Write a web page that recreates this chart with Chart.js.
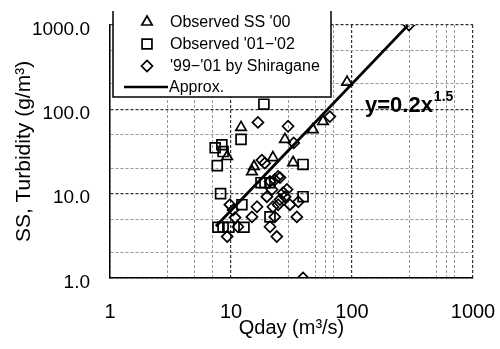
<!DOCTYPE html>
<html><head><meta charset="utf-8">
<script src="https://cdn.jsdelivr.net/npm/chart.js@4"></script>
<style>html,body{margin:0;padding:0;background:#fff}#wrap{width:500px;height:349px;position:relative}</style>
</head><body><div id="wrap"><canvas id="c" width="500" height="349"></canvas></div>
<script>
// ---- tick / grid values ----
const xTickValues = [1, 10, 100, 1000];
const xTickLabels = ['1', '10', '100', '1000'];
const yTickValues = [1, 10, 100, 1000];
const yTickLabels = ['1.0', '10.0', '100.0', '1000.0'];
const xGridMinor = [3, 5, 7, 30, 50, 60, 70, 300, 500, 600, 700];
const yGridMinor = [2, 5, 20, 50, 200, 500];

// ---- series names ----
const seriesNames = ["Observed SS '00", "Observed '01\u2212'02", "'99\u2212'01 by Shiragane", "Approx."];

// ---- Observed SS '00 (triangles) ----
const ssQ = [12.1, 9.3, 14.9, 15.5, 22.2, 27.9, 32.6, 47.5, 57.6, 91];
const ssC = [61, 27.6, 18.3, 21, 26.8, 44, 23.4, 57.5, 72, 210];

// ---- Observed '01-'02 (squares) ----
const obQ = [18.7, 12.1, 7.4, 8.4, 8.6, 7.7, 8.2, 12.3, 7.8, 8.6, 9.6, 12.8, 17.7, 19.1, 21, 39.4, 39.4, 21];
const obC = [115, 44, 35, 38, 31.6, 21.5, 10, 7.4, 4.0, 4.0, 4.0, 4.0, 13.5, 13.5, 13.5, 22.2, 9.2, 5.3];

// ---- '99-'01 by Shiragane (diamonds) ----
const shQ = [296, 65.6, 29.6, 16.7, 33, 18, 19, 25.4, 21.8, 19.8, 16.4, 14.9, 10.4, 9.8, 10.8, 11.4, 9.3,
             21, 23.9, 23, 22.2, 25.4, 28, 30.7, 35, 36, 27, 29, 24.5, 21, 24.5, 23, 39.4];
const shC = [1000, 82, 63, 70, 40, 25, 23, 15.5, 11.2, 9.2, 7.0, 5.3, 6.4, 7.4, 5.2, 4.05, 3.1,
             4.05, 3.1, 5.3, 7.0, 8.5, 9.2, 7.4, 5.3, 8.0, 10.3, 11.2, 7.4, 14, 16, 14.6, 1.0];

// ---- Approximation line endpoints ----
const apQ = [7.5, 290];
const apC = [4.1, 990];

// ---- equation label anchor ----
const eqText = 'y=0.2x';
const eqExp = '1.5';
const eqAt = [128, 92];

const toPts = (xs, ys) => xs.map((x, i) => ({x: x, y: ys[i]}));
const FONT = "'Liberation Sans', Arial, sans-serif";

const legendPlugin = {
  id: 'customLegend',
  afterDraw(chart) {
    const ctx = chart.ctx;
    const xs = chart.scales.x, ys = chart.scales.y;
    // equation
    ctx.save();
    ctx.fillStyle = '#000';
    ctx.font = 'bold 22px ' + FONT;
    ctx.textBaseline = 'alphabetic';
    const ex = xs.getPixelForValue(eqAt[0]), ey = ys.getPixelForValue(eqAt[1]);
    ctx.fillText(eqText, ex, ey);
    const w = ctx.measureText(eqText).width;
    ctx.font = 'bold 14px ' + FONT;
    ctx.fillText(eqExp, ex + w + 1, ey - 11);
    ctx.restore();

    // legend box
    ctx.save();
    const L = 113, R = 331, T = 0, B = 97;
    ctx.fillStyle = '#fff';
    ctx.fillRect(L, T, R - L, B - T);
    ctx.strokeStyle = '#000';
    ctx.lineWidth = 1.5;
    ctx.beginPath();
    ctx.moveTo(L, 11); ctx.lineTo(L, B); ctx.lineTo(R, B); ctx.lineTo(R, 11);
    ctx.stroke();
    const rows = [22, 44, 66, 87];
    const ds = chart.data.datasets;
    for (let i = 0; i < 3; i++) {
      const d = ds[i];
      ctx.fillStyle = 'rgba(0,0,0,0)';
      ctx.strokeStyle = '#000';
      ctx.lineWidth = d.borderWidth;
      Chart.helpers.drawPoint(ctx, {
        pointStyle: d.pointStyle, radius: d.pointRadius, borderWidth: d.borderWidth, rotation: 0
      }, 147, rows[i]);
      ctx.fillStyle = '#000';
      ctx.font = '16px ' + FONT;
      ctx.textBaseline = 'middle';
      ctx.fillText(seriesNames[i], 170, rows[i] + 1);
    }
    ctx.strokeStyle = '#000';
    ctx.lineWidth = 2.5;
    ctx.beginPath(); ctx.moveTo(124, rows[3]); ctx.lineTo(168, rows[3]); ctx.stroke();
    ctx.fillStyle = '#000';
    ctx.fillText(seriesNames[3], 169, rows[3] + 1);
    ctx.restore();
  }
};

const mk = (vals, minor) => {
  const all = vals.concat(minor).sort((a, b) => a - b);
  return all.map(v => ({value: v, major: vals.includes(v)}));
};

new Chart(document.getElementById('c'), {
  type: 'scatter',
  data: {
    datasets: [
      {label: seriesNames[0], data: toPts(ssQ, ssC), pointStyle: 'triangle', pointRadius: 6,
       borderColor: '#000', backgroundColor: 'rgba(0,0,0,0)', borderWidth: 1.7},
      {label: seriesNames[1], data: toPts(obQ, obC), pointStyle: 'rect', pointRadius: 7,
       borderColor: '#000', backgroundColor: 'rgba(0,0,0,0)', borderWidth: 1.7},
      {label: seriesNames[2], data: toPts(shQ, shC), pointStyle: 'rectRot', pointRadius: 5.5,
       borderColor: '#000', backgroundColor: 'rgba(0,0,0,0)', borderWidth: 1.7},
      {label: seriesNames[3], data: toPts(apQ, apC), type: 'line', showLine: true, pointRadius: 0,
       borderColor: '#000', borderWidth: 2.8, fill: false}
    ]
  },
  options: {
    responsive: false, animation: false, devicePixelRatio: 1,
    layout: {padding: {left: 0, top: 25, right: 27, bottom: 0}},
    plugins: {legend: {display: false}, tooltip: {enabled: false}},
    scales: {
      x: {
        type: 'logarithmic', min: 1, max: 1000,
        afterBuildTicks: s => { s.ticks = mk(xTickValues, xGridMinor); },
        afterFit: s => { s.height = 71; s.paddingLeft = 0; s.paddingRight = 0; },
        ticks: {
          autoSkip: false, maxRotation: 0, padding: 22, color: '#000',
          font: {family: FONT, size: 20},
          callback: v => { const i = xTickValues.indexOf(v); return i >= 0 ? xTickLabels[i] : ''; }
        },
        grid: {
          drawTicks: false,
          color: c => (c.tick && c.tick.major) ? '#333' : '#999',
          lineWidth: c => (c.tick && c.tick.major) ? 1.2 : 1
        },
        border: {display: true, color: '#000', width: 1.5, dash: [3, 2]},
        title: {display: true, text: 'Qday (m\u00B3/s)', color: '#000',
                font: {family: FONT, size: 20}, padding: {top: 0, bottom: 9}}
      },
      y: {
        type: 'logarithmic', min: 1, max: 1000,
        afterBuildTicks: s => { s.ticks = mk(yTickValues, yGridMinor); },
        afterFit: s => { s.width = 110; s.paddingTop = 0; s.paddingBottom = 0; },
        ticks: {
          autoSkip: false, padding: 20, color: '#000', labelOffset: 4.5,
          font: {family: FONT, size: 19},
          callback: v => { const i = yTickValues.indexOf(v); return i >= 0 ? yTickLabels[i] : ''; }
        },
        grid: {
          drawTicks: false,
          color: c => (c.tick && c.tick.major) ? '#333' : '#999',
          lineWidth: c => (c.tick && c.tick.major) ? 1.2 : 1
        },
        border: {display: true, color: '#000', width: 1.5, dash: [3, 2]},
        title: {display: true, text: 'SS, Turbidity (g/m\u00B3)', color: '#000',
                font: {family: FONT, size: 21}, padding: {top: 12, bottom: 0}}
      }
    }
  },
  plugins: [legendPlugin]
});
</script></body></html>
